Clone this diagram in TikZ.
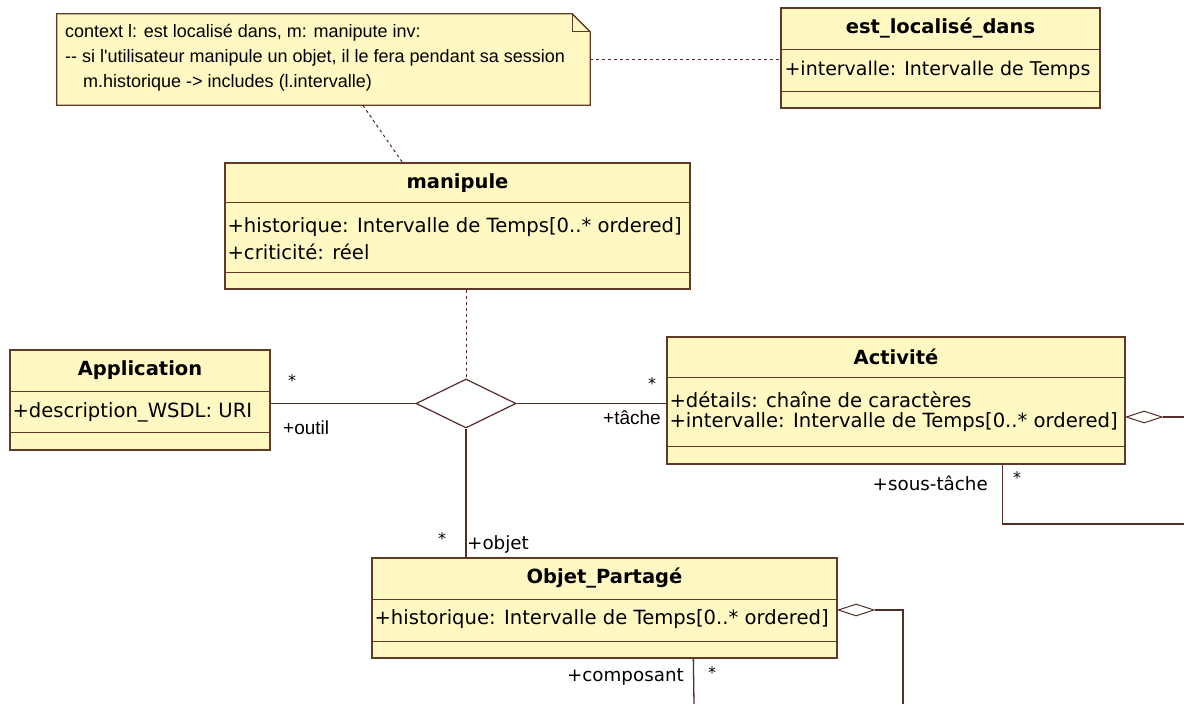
\documentclass[tikz,border=0pt]{standalone}
\usepackage{fontspec}
\setmainfont{DejaVu Sans}
\newfontfamily\notefont{Liberation Sans}
\usetikzlibrary{shapes.geometric}
\definecolor{boxfill}{RGB}{255,248,194}
\definecolor{boxline}{RGB}{96,58,36}
\definecolor{linkcol}{RGB}{84,44,40}

\begin{document}
\begin{tikzpicture}[x=1pt,y=-1pt,
  classbox/.style={draw=boxline,fill=boxfill,line width=1.3pt,inner sep=0pt},
  divider/.style={draw=boxline,line width=1.3pt},
  ctitle/.style={font=\fontsize{19.5}{23}\selectfont\bfseries,inner sep=0pt},
  cattr/.style={font=\fontsize{19.6}{24}\selectfont,anchor=west,inner sep=0pt},
  role/.style={font=\fontsize{18.3}{22}\selectfont,inner sep=0pt},
  roleb/.style={font=\notefont\fontsize{19}{22}\selectfont,inner sep=0pt},
  mult/.style={font=\fontsize{16}{18}\selectfont,inner sep=0pt},
  link/.style={draw=linkcol,line width=1.3pt},
  notelink/.style={draw=linkcol,line width=1pt,dashed,dash pattern=on 3pt off 3pt},
  aggr/.style={diamond,draw=linkcol,fill=white,line width=1pt,inner sep=0pt,
    minimum width=36pt,minimum height=12pt}]
  \useasboundingbox (0,0) rectangle (1184,704);
  \fill[white] (0,0) rectangle (1184,704);

  \node[minimum width=533pt,minimum height=91pt,inner sep=0pt] (note) at (323.5,59.5) {};
  \draw[fill=boxfill,draw=boxline,line width=1.3pt] (note.north west) -- ([xshift=-18pt]note.north east)
    -- ([yshift=-18pt]note.north east) -- (note.south east) -- (note.south west) -- cycle;
  \draw[boxline,line width=1.1pt] ([xshift=-18pt]note.north east) |- ([yshift=-18pt]note.north east);
  \node[font=\notefont\fontsize{18}{25}\selectfont,align=left,anchor=west,inner sep=0pt] (notetext) at (65,58)
    {context l: est localisé dans, m: manipute inv:\\
     -{}- si l'utilisateur manipule un objet, il le fera pendant sa session\\
     \hspace*{18pt}m.historique -> includes (l.intervalle)};

  \node[classbox,minimum width=319pt,minimum height=100pt] (est) at (940.5,58) {};
  \draw[divider] ([yshift=-42pt]est.north west) -- ([yshift=-42pt]est.north east);
  \draw[divider] ([yshift=-84pt]est.north west) -- ([yshift=-84pt]est.north east);
  \node[ctitle] (estT) at ([yshift=-21pt]est.north) {est\_localisé\_dans};
  \node[cattr,font=\fontsize{19}{24}\selectfont] (estA) at ([xshift=4pt,yshift=-63pt]est.north west) {+intervalle: Intervalle de Temps};

  \node[classbox,minimum width=465pt,minimum height=126pt] (manip) at (457.5,226) {};
  \draw[divider] ([yshift=-40pt]manip.north west) -- ([yshift=-40pt]manip.north east);
  \draw[divider] ([yshift=-110pt]manip.north west) -- ([yshift=-110pt]manip.north east);
  \node[ctitle] (manipT) at ([yshift=-21pt]manip.north) {manipule};
  \node[cattr] (manipA) at ([xshift=3pt,yshift=-65pt]manip.north west) {+historique: Intervalle de Temps[0..* ordered]};
  \node[cattr] (manipB) at ([xshift=3pt,yshift=-89pt]manip.north west) {+criticité: réel};

  \node[classbox,minimum width=260pt,minimum height=100pt] (app) at (140,400) {};
  \draw[divider] ([yshift=-42pt]app.north west) -- ([yshift=-42pt]app.north east);
  \draw[divider] ([yshift=-83pt]app.north west) -- ([yshift=-83pt]app.north east);
  \node[ctitle] (appT) at ([yshift=-21pt]app.north) {Application};
  \node[cattr] (appA) at ([xshift=3pt,yshift=-63pt]app.north west) {+description\_WSDL: URI};

  \node[classbox,minimum width=458pt,minimum height=127pt] (act) at (896,400.5) {};
  \draw[divider] ([yshift=-41pt]act.north west) -- ([yshift=-41pt]act.north east);
  \draw[divider] ([yshift=-110pt]act.north west) -- ([yshift=-110pt]act.north east);
  \node[ctitle] (actT) at ([yshift=-20pt]act.north) {Activité};
  \node[cattr] (actA) at ([xshift=3pt,yshift=-63pt]act.north west) {+détails: chaîne de caractères};
  \node[cattr] (actB) at ([xshift=3pt,yshift=-86pt]act.north west) {+intervalle: Intervalle de Temps[0..* ordered]};

  \node[classbox,minimum width=465pt,minimum height=100pt] (obj) at (604.5,608) {};
  \draw[divider] ([yshift=-42pt]obj.north west) -- ([yshift=-42pt]obj.north east);
  \draw[divider] ([yshift=-84pt]obj.north west) -- ([yshift=-84pt]obj.north east);
  \node[ctitle] (objT) at ([yshift=-21pt]obj.north) {Objet\_Partagé};
  \node[cattr] (objA) at ([xshift=3pt,yshift=-62pt]obj.north west) {+historique: Intervalle de Temps[0..* ordered]};

  \node[diamond,draw=linkcol,fill=white,line width=1.2pt,inner sep=0pt,
    minimum width=100pt,minimum height=49pt] (dia) at (466,403.5) {};

  \draw[notelink] (note.east) -- (note.east -| est.west);
  \draw[notelink] ([xshift=306pt]note.south west) -- ([xshift=178pt]manip.north west);
  \draw[notelink] (manip.south -| dia.north) -- (dia.north);

  \draw[link] (dia.west) -- (dia.west -| app.east);
  \draw[link] (dia.east) -- (dia.east -| act.west);
  \draw[link] (dia.south) -- (dia.south |- obj.north);

  \node[aggr,anchor=west] (actagg) at ([yshift=-16.5pt]act.east) {};
  \coordinate (actout) at (1184,417);
  \coordinate (actend) at (1184,524);
  \draw[link] (actagg.east) -- (actout);
  \draw[link] ([xshift=336pt]act.south west) |- (actend);

  \node[aggr,anchor=west] (objagg) at ([yshift=-2pt]obj.east) {};
  \coordinate (objend) at (903,704);
  \coordinate (compend) at (694,704);
  \draw[link] (objagg.east) -| (objend);
  \draw[link] ([xshift=322pt]obj.south west) -- (compend);

  \node[mult] (appM) at (292,381) {*};
  \node[roleb,anchor=west] (appR) at (283,428) {+outil};
  \node[mult] (actM) at (652,384) {*};
  \node[roleb,anchor=east] (actR) at (661,418) {+tâche};
  \node[mult] (objM) at (442,539) {*};
  \node[role,anchor=west] (objR) at (467,544) {+objet};
  \node[role,anchor=east] (subR) at (988,483) {+sous-tâche};
  \node[mult] (subM) at (1017,478) {*};
  \node[role,anchor=east] (compR) at (684,677) {+composant};
  \node[mult] (compM) at (712,673) {*};
\end{tikzpicture}
\end{document}
